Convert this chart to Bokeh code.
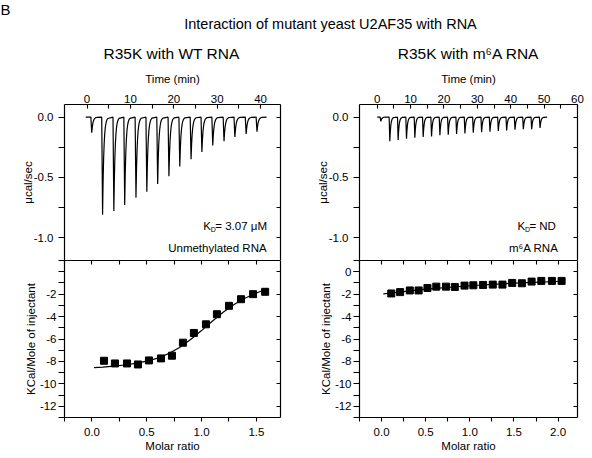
import numpy as np
from bokeh.plotting import figure
from bokeh.layouts import column, row
from bokeh.core.properties import value
from bokeh.models import (Range1d, LinearAxis, FixedTicker, PrintfTickFormatter, Label,
                          CustomLabelingPolicy)
from bokeh.embed import file_html
from bokeh.resources import INLINE

FONT = "Liberation Sans"

# ---------------- data ----------------
main_title = "Interaction of mutant yeast U2AF35 with RNA"
panel_titles = ["R35K with WT RNA", "R35K with m\u2076A RNA"]

# raw ITC thermograms: injection times (min) and peak heights (ucal/sec)
wt_inj_time = [1.0, 3.5, 6.1, 8.6, 11.2, 13.7, 16.2, 18.8, 21.3, 23.9, 26.4, 28.9, 31.5, 34.0, 36.6, 39.1]
wt_inj_peak = [-0.13, -0.81, -0.78, -0.73, -0.67, -0.62, -0.555, -0.49, -0.41, -0.35, -0.29, -0.235, -0.20, -0.165, -0.14, -0.12]
wt_trace_span = [-0.3, 41.4]

m6a_inj_time = [1.0, 3.7, 6.2, 8.7, 11.2, 13.7, 16.2, 18.7, 21.2, 23.7, 26.2, 28.7, 31.2, 33.7, 36.2, 38.7, 41.2, 43.7, 46.2, 48.7]
m6a_inj_peak = [-0.035, -0.20, -0.19, -0.18, -0.17, -0.165, -0.16, -0.15, -0.145, -0.14, -0.135, -0.13, -0.125, -0.12, -0.115, -0.11, -0.105, -0.10, -0.10, -0.09]
m6a_trace_span = [0.0, 50.9]

# integrated heats (kcal/mol of injectant) vs molar ratio
wt_ratio = [0.11, 0.21, 0.32, 0.42, 0.52, 0.63, 0.73, 0.83, 0.93, 1.04, 1.14, 1.25, 1.36, 1.47, 1.58]
wt_heat = [-7.94, -8.18, -8.18, -8.27, -7.91, -7.73, -7.49, -6.33, -5.46, -4.69, -3.79, -3.04, -2.45, -2.0, -1.79]
wt_fit_ratio = [0.02, 0.1, 0.2, 0.3, 0.4, 0.5, 0.6, 0.7, 0.8, 0.9, 1.0, 1.1, 1.2, 1.3, 1.4, 1.5, 1.6]
wt_fit_heat = [-8.55, -8.5, -8.42, -8.32, -8.18, -7.98, -7.7, -7.3, -6.75, -6.05, -5.25, -4.4, -3.6, -2.9, -2.35, -1.9, -1.52]

m6a_ratio = [0.11, 0.21, 0.32, 0.42, 0.52, 0.62, 0.73, 0.83, 0.94, 1.04, 1.15, 1.26, 1.37, 1.48, 1.59, 1.70, 1.81, 1.93, 2.04]
m6a_heat = [-1.94, -1.82, -1.67, -1.67, -1.45, -1.33, -1.33, -1.36, -1.24, -1.21, -1.18, -1.15, -1.15, -1.0, -1.03, -0.88, -0.82, -0.82, -0.82]
m6a_fit_ratio = [0.02, 0.5, 1.0, 1.5, 2.05]
m6a_fit_heat = [-1.97, -1.55, -1.25, -1.02, -0.85]

# tick values / labels
time_ticks_wt = [0, 10, 20, 30, 40]
time_minor_wt = [5, 15, 25, 35]
time_ticks_m6a = [0, 10, 20, 30, 40, 50, 60]
time_minor_m6a = [5, 15, 25, 35, 45, 55]
raw_ticks = [0.0, -0.5, -1.0]
raw_minor = [-0.25, -0.75]
heat_ticks_wt = [-2, -4, -6, -8, -10, -12]
heat_ticks_m6a = [0, -2, -4, -6, -8, -10, -12]
heat_minor = [1, 0, -1, -3, -5, -7, -9, -11, -13]
ratio_ticks_wt = [0.0, 0.5, 1.0, 1.5]
ratio_ticks_m6a = [0.0, 0.5, 1.0, 1.5, 2.0]
ratio_minor = [-0.25, 0.25, 0.75, 1.25, 1.75, 2.25]

kd_texts = ["= 3.07 \u03bcM", "= ND"]
rna_texts = ["Unmethylated RNA", "m\u2076A RNA"]

# ---------------- helpers ----------------
def build_trace(span, times, peaks):
    xs = [span[0]]
    ys = [0.0]
    for t0, d in zip(times, peaks):
        xs += [t0 - 0.12, t0 + 0.08]
        ys += [0.0, d]
        for k in range(1, 11):
            dt = 0.12 * k
            xs.append(t0 + 0.08 + dt)
            ys.append(d * np.exp(-dt / 0.28))
    xs.append(span[1])
    ys.append(0.0)
    return xs, ys


def style_axis(ax, tick_in, tick_out, label_size="11.5px", standoff=2):
    ax.axis_line_color = "black"
    ax.axis_line_width = 1.2
    ax.major_tick_line_color = "black"
    ax.minor_tick_line_color = "black"
    ax.major_tick_line_width = 1.1
    ax.minor_tick_line_width = 1.1
    ax.major_tick_in = tick_in
    ax.major_tick_out = tick_out
    ax.minor_tick_in = tick_in
    ax.minor_tick_out = tick_out
    ax.major_label_text_font = FONT
    ax.major_label_text_font_size = label_size
    ax.major_label_text_color = "black"
    ax.major_label_standoff = standoff
    ax.axis_label_text_font = FONT
    ax.axis_label_text_font_size = "11.5px"
    ax.axis_label_text_font_style = "normal"
    ax.axis_label_text_color = "black"


HIDE_LABELS = CustomLabelingPolicy(code="""
const out = new Set();
return out;
""")


def mirror(p, loc, ticks, minor):
    ax = LinearAxis(ticker=FixedTicker(ticks=ticks, minor_ticks=minor))
    style_axis(ax, 4, 0, label_size="0px", standoff=0)
    ax.major_label_policy = HIDE_LABELS
    p.add_layout(ax, loc)
    return ax


def base_fig(w, h, xr, yr, xloc, borders):
    p = figure(width=w, height=h, x_range=Range1d(*xr), y_range=Range1d(*yr),
               x_axis_location=xloc, toolbar_location=None, output_backend="svg",
               min_border_left=borders[0], min_border_right=borders[1],
               min_border_top=borders[2], min_border_bottom=borders[3])
    p.grid.visible = False
    p.outline_line_color = None
    p.background_fill_color = "white"
    p.border_fill_color = "white"
    return p


def raw_panel(w, borders, xr, times_major, times_minor, span, times, peaks, kd_x, kd_text):
    p = base_fig(w, 194, xr, (-1.19, 0.105), "above", borders)
    xa = p.xaxis[0]
    xa.ticker = FixedTicker(ticks=times_major, minor_ticks=times_minor)
    xa.formatter = PrintfTickFormatter(format="%d")
    xa.axis_label = "Time (min)"
    style_axis(xa, 4, 0, standoff=2)
    xa.axis_label_standoff = 7
    ya = p.yaxis[0]
    ya.ticker = FixedTicker(ticks=raw_ticks, minor_ticks=raw_minor)
    ya.formatter = PrintfTickFormatter(format="%.1f")
    ya.axis_label = "\u03bccal/sec"
    style_axis(ya, 0, 6, standoff=5)
    ya.axis_label_standoff = -3
    mirror(p, "right", raw_ticks, raw_minor)
    tx, ty = build_trace(span, times, peaks)
    p.line(tx, ty, line_color="black", line_width=1.2)
    common = dict(text_font=FONT, text_color="black", x_units="data", y_units="data")
    p.add_layout(Label(x=kd_x, y=-0.90, text="K", text_font_size="11.5px",
                       text_align="left", text_baseline="middle", **common))
    p.add_layout(Label(x=kd_x, y=-0.90, x_offset=7.5, y_offset=-4, text="D", text_font_size="7px",
                       text_align="left", text_baseline="middle", **common))
    p.add_layout(Label(x=kd_x, y=-0.90, x_offset=12, text=kd_text, text_font_size="11.5px",
                       text_align="left", text_baseline="middle", **common))
    return p


def heat_panel(w, borders, xr, r_ticks, y_ticks, ratio, heat, fit_r, fit_h):
    p = base_fig(w, 198, xr, (-13, 1), "below", borders)
    xa = p.xaxis[0]
    xa.ticker = FixedTicker(ticks=r_ticks, minor_ticks=ratio_minor)
    xa.formatter = PrintfTickFormatter(format="%.1f")
    xa.axis_label = "Molar ratio"
    style_axis(xa, 0, 4, standoff=6)
    xa.axis_label_standoff = 1
    ya = p.yaxis[0]
    ya.ticker = FixedTicker(ticks=y_ticks, minor_ticks=heat_minor)
    ya.formatter = PrintfTickFormatter(format="%d")
    ya.axis_label = "KCal/Mole of injectant"
    style_axis(ya, 0, 6, standoff=2)
    ya.axis_label_standoff = 0
    mirror(p, "above", r_ticks, ratio_minor)
    mirror(p, "right", heat_ticks_m6a, [])
    p.line(fit_r, fit_h, line_color="black", line_width=1.2)
    p.scatter(ratio, heat, marker="square", size=7, fill_color="black", line_color="black")
    return p


# ---------------- header ----------------
hdr = figure(width=592, height=66, x_range=Range1d(0, 592), y_range=Range1d(66, 0),
             toolbar_location=None, output_backend="svg",
             min_border_left=0, min_border_right=0, min_border_top=0, min_border_bottom=0)
hdr.axis.visible = False
hdr.grid.visible = False
hdr.outline_line_color = None
hdr.text(x=[330], y=[23], text=[main_title], text_font=value(FONT), text_font_size="14.5px",
         text_align="center", text_baseline="middle", text_color="black")
hdr.text(x=[171, 468], y=[53, 53], text=panel_titles, text_font=value(FONT), text_font_size="15.5px",
         text_align="center", text_baseline="middle", text_color="black")
hdr.text(x=[0], y=[9], text=["B"], text_font=value(FONT), text_font_size="15px",
         text_align="left", text_baseline="middle", text_color="black")

# ---------------- panels ----------------
tl = raw_panel(292, (64, 12, 38, 0), (-5.2, 44.6), time_ticks_wt, time_minor_wt,
               wt_trace_span, wt_inj_time, wt_inj_peak, 26.8, kd_texts[0])
tr = raw_panel(300, (67, 15, 38, 0), (-5.3, 60.0), time_ticks_m6a, time_minor_m6a,
               m6a_trace_span, m6a_inj_time, m6a_inj_peak, 42.0, kd_texts[1])
for p, xr_right, txt in ((tl, 41.4, rna_texts[0]), (tr, 54.3, rna_texts[1])):
    p.add_layout(Label(x=xr_right, y=-1.085, text=txt, text_font=FONT, text_font_size="11.5px",
                       text_align="right", text_baseline="middle", text_color="black"))

bl = heat_panel(292, (64, 12, 0, 41), (-0.25, 1.72), ratio_ticks_wt, heat_ticks_wt,
                wt_ratio, wt_heat, wt_fit_ratio, wt_fit_heat)
br = heat_panel(300, (67, 15, 0, 41), (-0.25, 2.22), ratio_ticks_m6a, heat_ticks_m6a,
                m6a_ratio, m6a_heat, m6a_fit_ratio, m6a_fit_heat)

layout = column(hdr, row(column(tl, bl), column(tr, br)))
open("out.html", "w").write(file_html(layout, INLINE))
